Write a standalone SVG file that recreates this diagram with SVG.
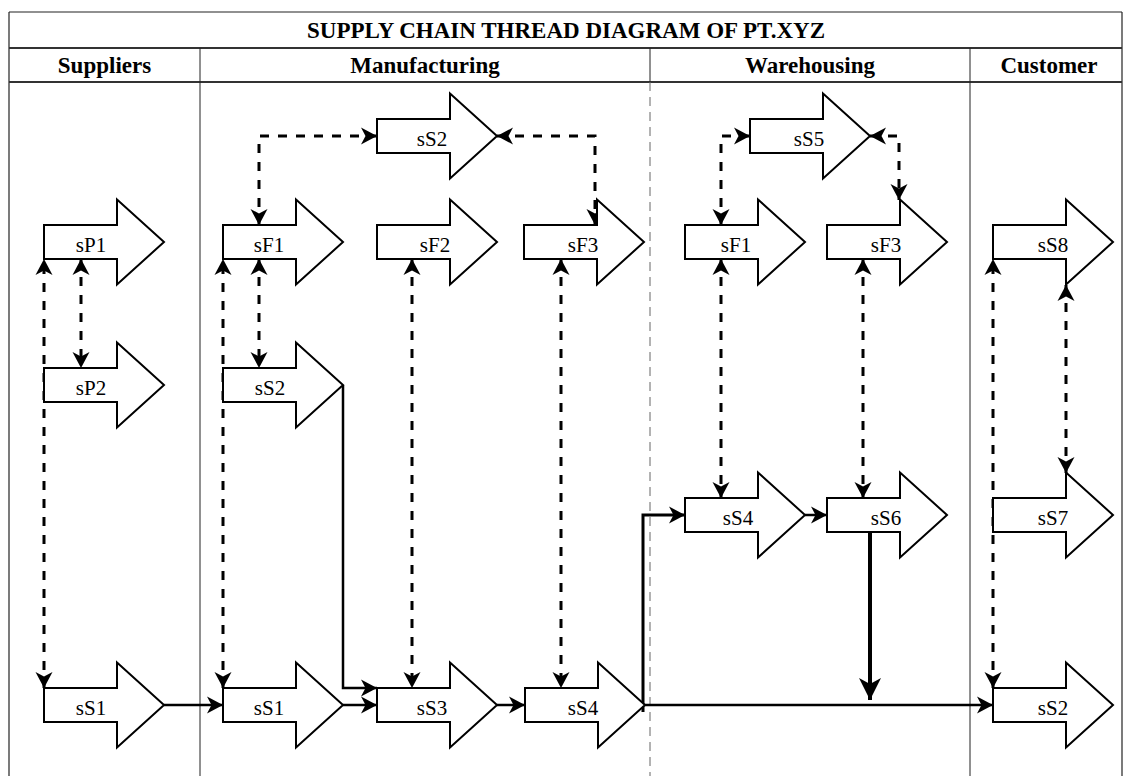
<svg xmlns="http://www.w3.org/2000/svg" width="1127" height="776" viewBox="0 0 1127 776">
<style>
.frame{stroke:#222;stroke-width:1.2;fill:none}
.hline{stroke:#333;stroke-width:2;fill:none}
.div{stroke:#222;stroke-width:1;fill:none}
.ddiv{stroke:#666;stroke-width:1;stroke-dasharray:9 6;fill:none}
.hdr{font-weight:bold;font-size:23px;fill:#000;text-anchor:middle}
.shape{fill:#fff;stroke:#000;stroke-width:2;stroke-linejoin:miter}
.lbl{font-size:21px;fill:#000;text-anchor:middle}
.dash{fill:none;stroke:#000;stroke-width:3;stroke-dasharray:9 9;marker-start:url(#ah);marker-end:url(#ah)}
.solid{fill:none;stroke:#000;stroke-width:2.5;marker-end:url(#ah)}
.thick{fill:none;stroke:#000;stroke-width:4;marker-end:url(#ahb)}
</style>
<defs>
<marker id="ah" markerUnits="userSpaceOnUse" markerWidth="18" markerHeight="18" refX="16" refY="9" orient="auto-start-reverse" viewBox="0 0 18 18">
<path d="M0,0.5 L16,9 L0,17.5 L4.5,9 Z" fill="#000"/>
</marker>
<marker id="ahb" markerUnits="userSpaceOnUse" markerWidth="24" markerHeight="24" refX="22" refY="12" orient="auto" viewBox="0 0 24 24">
<path d="M0,1 L22,12 L0,23 L6,12 Z" fill="#000"/>
</marker>
<path id="arr" d="M0,-17 H73 V-42.5 L120,0 L73,42.5 V17 H0 Z"/>
</defs>

<g id="frame" font-family="Liberation Serif, Times New Roman, serif">
<line class="frame" x1="9" y1="12" x2="1122" y2="12"/>
<line class="frame" x1="9" y1="12" x2="9" y2="776"/>
<line class="frame" x1="1122" y1="12" x2="1122" y2="776"/>
<line class="hline" x1="9" y1="48" x2="1122" y2="48"/>
<line class="hline" x1="9" y1="82" x2="1122" y2="82"/>
<line class="div" x1="200" y1="48" x2="200" y2="776"/>
<line class="div" x1="650" y1="48" x2="650" y2="82"/>
<line class="ddiv" x1="650" y1="82" x2="650" y2="776"/>
<line class="div" x1="970" y1="48" x2="970" y2="776"/>
<text class="hdr" x="566" y="38">SUPPLY CHAIN THREAD DIAGRAM OF PT.XYZ</text>
<text class="hdr" x="104.5" y="73">Suppliers</text>
<text class="hdr" x="425" y="73">Manufacturing</text>
<text class="hdr" x="810" y="73">Warehousing</text>
<text class="hdr" x="1049" y="73">Customer</text>
</g>

<g id="connectors">
<path class="dash" d="M44,688 V259"/>
<path class="dash" d="M81,259 V368"/>
<path class="dash" d="M223,688 V259"/>
<path class="dash" d="M259,259 V368"/>
<path class="dash" d="M259,225 V136 H377"/>
<path class="dash" d="M412,259 V688"/>
<path class="dash" d="M561,259 V688"/>
<path class="dash" d="M497,136 H595 V225"/>
<path class="dash" d="M721,225 V136 H750"/>
<path class="dash" d="M721,259 V498"/>
<path class="dash" d="M863,259 V498"/>
<path class="dash" d="M870,136 H899 V200"/>
<path class="dash" d="M993,688 V259"/>
<path class="dash" d="M1066,285 V473"/>
<path class="solid" d="M164,705 H223"/>
<path class="solid" d="M343,705 H377"/>
<path class="solid" d="M343,385 V688 H377"/>
<path class="solid" d="M497,705 H525"/>
<path class="solid" d="M645,705 H993"/>
<path class="solid" d="M643,712 V515 H685" style="stroke-width:3"/>
<path class="solid" d="M805,515 H827"/>
<path class="thick" d="M870,532 V700"/>
</g>

<g id="nodes" font-family="Liberation Serif, Times New Roman, serif">
<g id="sP1"><use href="#arr" class="shape" x="44" y="242"/><text class="lbl" x="91" y="252">sP1</text></g>
<g id="sP2"><use href="#arr" class="shape" x="44" y="385"/><text class="lbl" x="91" y="395">sP2</text></g>
<g id="sup-sS1"><use href="#arr" class="shape" x="44" y="705"/><text class="lbl" x="91" y="715">sS1</text></g>

<g id="mfg-sS2-top"><use href="#arr" class="shape" x="377" y="136"/><text class="lbl" x="432" y="146">sS2</text></g>
<g id="mfg-sF1"><use href="#arr" class="shape" x="223" y="242"/><text class="lbl" x="269" y="252">sF1</text></g>
<g id="mfg-sF2"><use href="#arr" class="shape" x="377" y="242"/><text class="lbl" x="435" y="252">sF2</text></g>
<g id="mfg-sF3"><use href="#arr" class="shape" x="524" y="242"/><text class="lbl" x="583" y="252">sF3</text></g>
<g id="mfg-sS2"><use href="#arr" class="shape" x="223" y="385"/><text class="lbl" x="270" y="395">sS2</text></g>
<g id="mfg-sS1"><use href="#arr" class="shape" x="223" y="705"/><text class="lbl" x="269" y="715">sS1</text></g>
<g id="mfg-sS3"><use href="#arr" class="shape" x="377" y="705"/><text class="lbl" x="432" y="715">sS3</text></g>
<g id="mfg-sS4"><use href="#arr" class="shape" x="525" y="705"/><text class="lbl" x="583" y="715">sS4</text></g>

<g id="wh-sS5"><use href="#arr" class="shape" x="750" y="136"/><text class="lbl" x="809" y="146">sS5</text></g>
<g id="wh-sF1"><use href="#arr" class="shape" x="685" y="242"/><text class="lbl" x="736" y="252">sF1</text></g>
<g id="wh-sF3"><use href="#arr" class="shape" x="827" y="242"/><text class="lbl" x="886" y="252">sF3</text></g>
<g id="wh-sS4"><use href="#arr" class="shape" x="685" y="515"/><text class="lbl" x="738" y="525">sS4</text></g>
<g id="wh-sS6"><use href="#arr" class="shape" x="827" y="515"/><text class="lbl" x="886" y="525">sS6</text></g>

<g id="cus-sS8"><use href="#arr" class="shape" x="993" y="242"/><text class="lbl" x="1053" y="252">sS8</text></g>
<g id="cus-sS7"><use href="#arr" class="shape" x="993" y="515"/><text class="lbl" x="1053" y="525">sS7</text></g>
<g id="cus-sS2"><use href="#arr" class="shape" x="993" y="705"/><text class="lbl" x="1053" y="715">sS2</text></g>
</g>
</svg>
